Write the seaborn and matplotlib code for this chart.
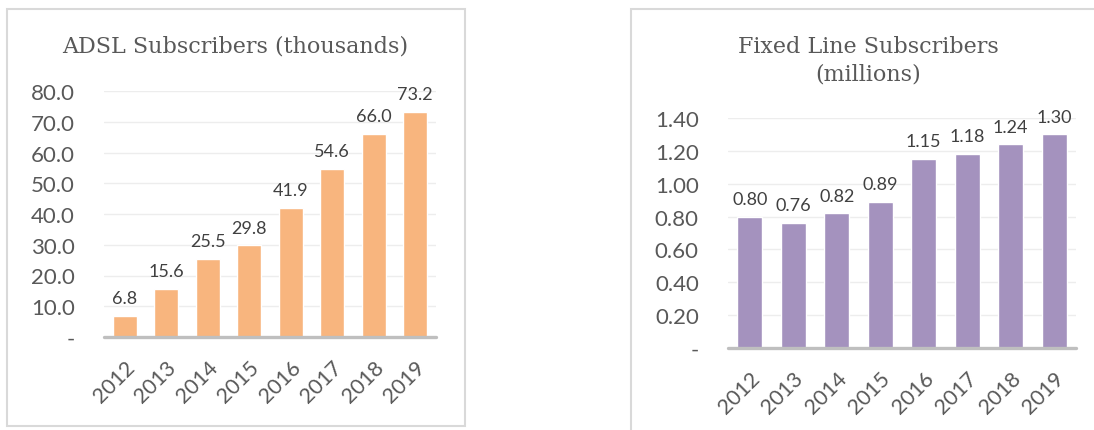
import matplotlib
matplotlib.use("Agg")
import matplotlib.pyplot as plt
import matplotlib.patches as patches
from matplotlib.ticker import FuncFormatter
import seaborn as sns
import pandas as pd

# Data
years = ['2012', '2013', '2014', '2015', '2016', '2017', '2018', '2019']
adsl_thousands = [6.8, 15.6, 25.5, 29.8, 41.9, 54.6, 66.0, 73.2]
fixed_millions = [0.80, 0.76, 0.82, 0.89, 1.15, 1.18, 1.24, 1.30]

adsl_color = '#F8B57E'
fixed_color = '#A492BE'
text_color = '#595959'

sns.set_theme(style='white')
plt.rcParams['font.family'] = ['Lato', 'DejaVu Sans']

W, H = 1094, 431
fig = plt.figure(figsize=(W / 100, H / 100), dpi=100)


def px_rect(x0, y_top, x1, y_bot):
    # pixel box (top-down) -> figure fraction rect
    return [x0 / W, 1 - y_bot / H, (x1 - x0) / W, (y_bot - y_top) / H]


# chart frames
for x0, y0, x1, y1 in [(7, 10, 465, 427), (631, 10, 1100, 440)]:
    fig.add_artist(patches.Rectangle((x0 / W, 1 - y1 / H), (x1 - x0) / W, (y1 - y0) / H,
                                     transform=fig.transFigure, fill=False,
                                     edgecolor='#D9D9D9', linewidth=1.5))


def draw(ax, values, color, ymax, step, fmt):
    df = pd.DataFrame({'year': years, 'value': values})
    sns.barplot(data=df, x='year', y='value', color=color, saturation=1,
                width=0.57, ax=ax)
    ax.set_xlim(-0.5, len(years) - 0.5)
    ax.set_ylim(0, ymax)
    ticks = [i * step for i in range(int(round(ymax / step)) + 1)]
    ax.set_yticks(ticks)
    ax.yaxis.set_major_formatter(FuncFormatter(lambda v, p: '-' if abs(v) < 1e-9 else fmt.format(v)))
    ax.set_xlabel('')
    ax.set_ylabel('')
    for s in ax.spines.values():
        s.set_visible(False)
    for t in ticks[1:]:
        ax.axhline(t, color='#EDEDED', linewidth=1, zorder=0)
    ax.axhline(0, color='#BFBFBF', linewidth=2.4, zorder=3, clip_on=False)
    ax.tick_params(axis='y', length=0, pad=21, labelsize=16, labelcolor=text_color)
    ax.tick_params(axis='x', length=0, pad=14, labelsize=15.5, labelcolor=text_color)
    for lab in ax.get_xticklabels():
        lab.set_rotation(45)
        lab.set_ha('right')
        lab.set_rotation_mode('anchor')
    for i, v in enumerate(values):
        ax.annotate(fmt.format(v), (i, v), xytext=(0, 7), textcoords='offset points',
                    ha='center', va='bottom', fontsize=13, color='#404040',
                    annotation_clip=False)


ax1 = fig.add_axes(px_rect(104, 92, 436, 338))
draw(ax1, adsl_thousands, adsl_color, 80, 10, '{:.1f}')

ax2 = fig.add_axes(px_rect(728, 119, 1076, 349))
draw(ax2, fixed_millions, fixed_color, 1.4, 0.2, '{:.2f}')

title_font = ['DejaVu Serif']
fig.text(235 / W, 1 - 47 / H, 'ADSL Subscribers (thousands)', ha='center', va='center',
         fontsize=16, color=text_color, family=title_font)
fig.text(868 / W, 1 - 61 / H, 'Fixed Line Subscribers\n(millions)', ha='center', va='center',
         fontsize=16, color=text_color, family=title_font, linespacing=1.3)

fig.savefig('out.png', dpi=100)
